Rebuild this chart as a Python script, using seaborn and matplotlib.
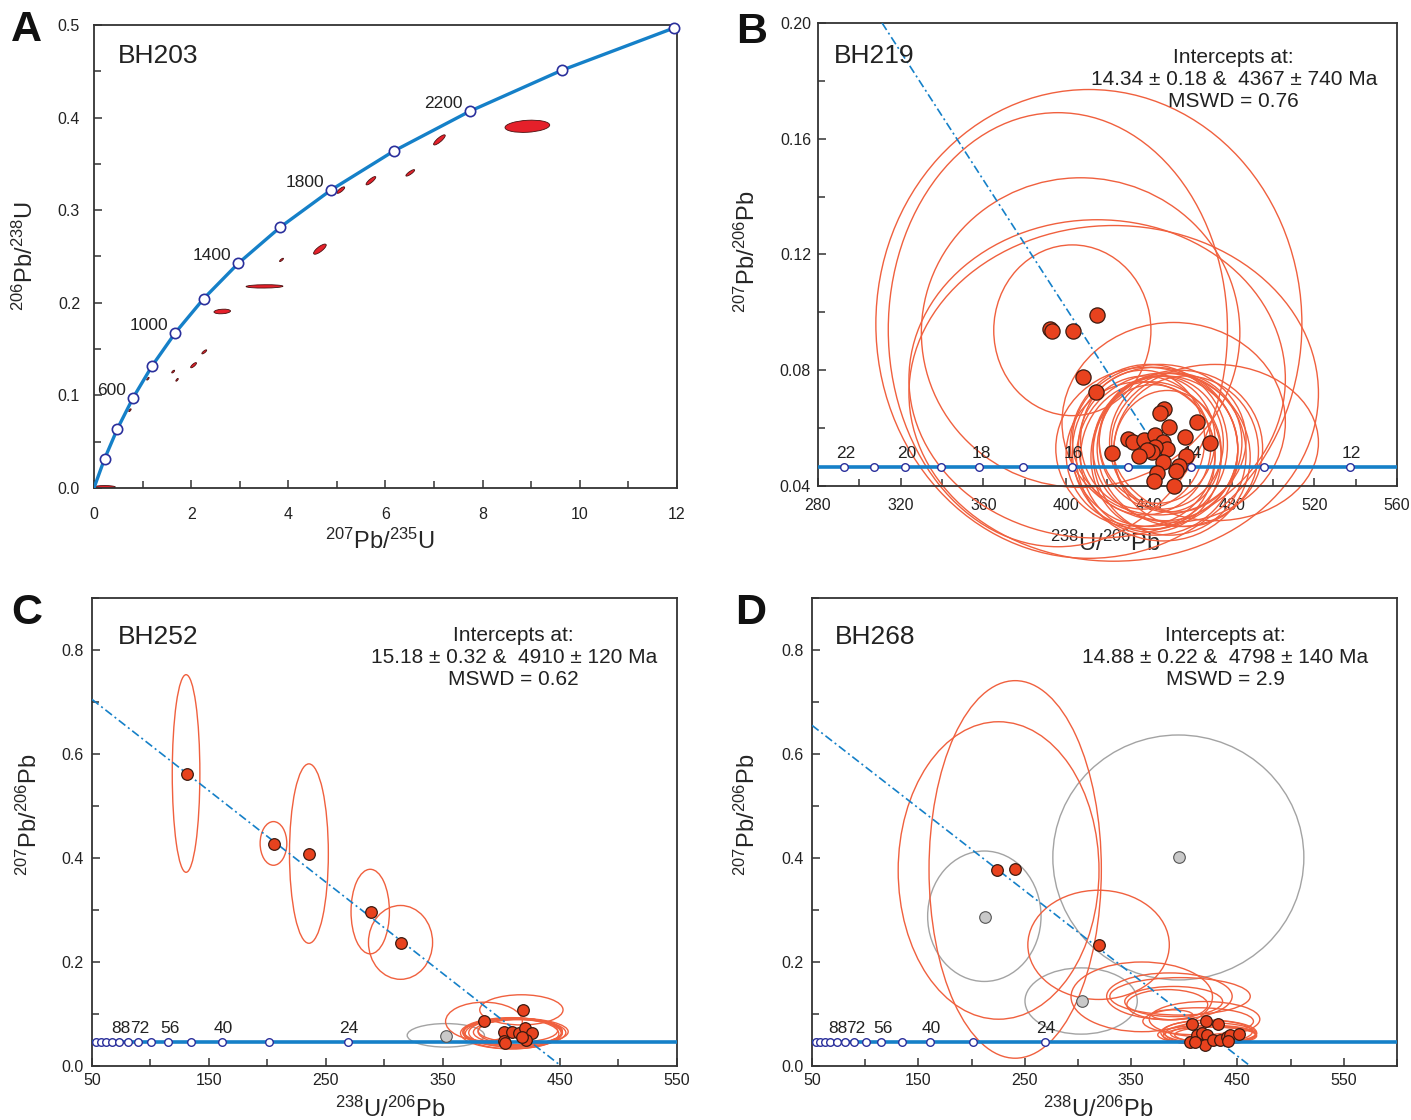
import numpy as np
import seaborn as sns
import matplotlib.pyplot as plt
from matplotlib.patches import Ellipse
from matplotlib.transforms import Affine2D
from matplotlib.ticker import MultipleLocator, FormatStrFormatter

sns.set_style("ticks")
plt.rcParams["font.family"] = ["Liberation Sans", "DejaVu Sans"]
plt.rcParams["mathtext.fontset"] = "custom"
plt.rcParams["mathtext.rm"] = "Liberation Sans"
plt.rcParams["mathtext.it"] = "Liberation Sans:italic"
plt.rcParams["mathtext.bf"] = "Liberation Sans:bold"

# ---------------- Panel A : BH203 (Wetherill concordia) ----------------
a_conc_age = [0, 200, 400, 600, 800, 1000, 1200, 1400, 1600, 1800, 2000, 2200, 2400, 2600]
a_conc_x = [0, 0.218, 0.483, 0.806, 1.199, 1.677, 2.260, 2.970, 3.835, 4.887, 6.169, 7.730, 9.630, 11.94]
a_conc_y = [0, 0.0315, 0.0640, 0.0975, 0.1321, 0.1678, 0.2046, 0.2426, 0.2817, 0.3221, 0.3638, 0.4067, 0.4511, 0.4968]
a_labels = [600, 1000, 1400, 1800, 2200]

a_ell_x = [8.92, 7.11, 6.51, 5.70, 5.08, 4.65, 3.86, 3.51, 2.64, 2.27, 2.05, 1.63, 1.71, 1.11, 0.74, 0.22, 0.31, 0.85]
a_ell_y = [0.3906, 0.3759, 0.3403, 0.3318, 0.3217, 0.2579, 0.2463, 0.2177, 0.1906, 0.147, 0.1326, 0.1257, 0.1168, 0.118, 0.084, 0.001, 0.029, 0.097]
a_ell_sx = [0.46, 0.12, 0.09, 0.10, 0.08, 0.13, 0.04, 0.38, 0.17, 0.05, 0.06, 0.03, 0.025, 0.025, 0.025, 0.22, 0.02, 0.02]
a_ell_sy = [0.0066, 0.0055, 0.0035, 0.0045, 0.0035, 0.0055, 0.0018, 0.0018, 0.0025, 0.0022, 0.0028, 0.0015, 0.0015, 0.0015, 0.0015, 0.0016, 0.0012, 0.0012]
a_ell_rho = [0.2, 0.85, 0.85, 0.85, 0.8, 0.8, 0.8, 0.1, 0.2, 0.8, 0.8, 0.7, 0.7, 0.7, 0.7, 0.0, 0.7, 0.7]

# ---------------- Panel B : BH219 (Tera-Wasserburg) ----------------
b_conc_y = 0.0466
b_mark_age = [22, 21, 20, 19, 18, 17, 16, 15, 14, 13, 12]
b_mark_x = [292.6, 307.3, 322.3, 339.3, 358.1, 379.2, 402.9, 429.8, 460.4, 495.9, 537.2]
b_labels = [22, 20, 18, 16, 14, 12]
b_disc_x = [311, 449.5]
b_disc_y = [0.20, 0.0466]

b_pt_x = [392.4, 393.3, 403.4, 414.7, 408.3, 414.4, 447.5, 445.4, 449.7, 463.4, 457.5, 469.6, 429.8, 432.2, 437.8,
          443.0, 447.0, 448.6, 443.1, 441.4, 439.0, 422.0, 435.2, 457.8, 446.7, 454.4, 453.0, 443.8, 442.6, 452.3]
b_pt_y = [0.0944, 0.0937, 0.0936, 0.0991, 0.0778, 0.0724, 0.0665, 0.0651, 0.0605, 0.0622, 0.0570, 0.0550, 0.0561, 0.0553, 0.0559,
          0.0575, 0.0553, 0.0527, 0.0534, 0.0519, 0.0524, 0.0513, 0.0505, 0.0505, 0.0484, 0.0469, 0.0452, 0.0444, 0.0417, 0.0400]

b_ell_x = [411, 396, 407, 415, 423, 403, 452, 472, 445, 440, 448, 443, 438, 450, 446, 441, 455, 436, 447, 444, 453, 439, 449, 442, 458, 437]
b_ell_y = [0.096, 0.094, 0.093, 0.077, 0.072, 0.0938, 0.062, 0.055, 0.056, 0.054, 0.053, 0.052, 0.054, 0.051, 0.055, 0.050,
           0.053, 0.051, 0.050, 0.056, 0.055, 0.053, 0.052, 0.050, 0.052, 0.056]
b_ell_sx = [103, 82, 77, 91, 99, 38, 54, 50, 42, 38, 35, 40, 32, 37, 30, 34, 40, 36, 42, 28, 32, 44, 26, 30, 35, 30]
b_ell_sy = [0.081, 0.075, 0.0535, 0.055, 0.058, 0.0295, 0.0345, 0.027, 0.026, 0.028, 0.025, 0.029, 0.024, 0.028, 0.023, 0.026,
            0.027, 0.025, 0.029, 0.022, 0.024, 0.028, 0.021, 0.025, 0.026, 0.024]

# ---------------- Panels C, D : shared concordia markers ----------------
cd_conc_y = 0.047
cd_mark_age = [120, 112, 104, 96, 88, 80, 72, 64, 56, 48, 40, 32, 24]
cd_mark_x = [53.7, 57.5, 62.0, 67.1, 73.2, 80.6, 89.5, 100.7, 115.1, 134.3, 161.2, 201.5, 268.6]
cd_labels = [88, 72, 56, 40, 24]

# Panel C : BH252
c_disc_x = [50, 451]
c_disc_y = [0.705, 0.0]
c_pt_x = [130.8, 205.9, 235.6, 288.2, 314.5, 385.3, 418.6, 402.1, 408.7, 415.0, 420.1, 426.3, 420.9, 402.1, 403.0, 417.3]
c_pt_y = [0.561, 0.427, 0.407, 0.2955, 0.2357, 0.0856, 0.1069, 0.0663, 0.0663, 0.0643, 0.0728, 0.0643, 0.0502, 0.0489, 0.0439, 0.0566]
c_gray_x = [352.6]
c_gray_y = [0.058]
c_ell_x = [130.4, 205.1, 235.4, 287.8, 313.7, 385.0, 417.0, 410, 412, 414, 408, 416, 411, 414, 409, 412]
c_ell_y = [0.5625, 0.428, 0.4085, 0.297, 0.2377, 0.0857, 0.108, 0.066, 0.064, 0.065, 0.063, 0.066, 0.064, 0.068, 0.062, 0.066]
c_ell_sx = [11.8, 11.4, 16.6, 16.4, 27.4, 32.8, 35.6, 42, 40, 38, 43, 36, 44, 34, 40, 45]
c_ell_sy = [0.19, 0.042, 0.1725, 0.0813, 0.071, 0.037, 0.029, 0.026, 0.028, 0.024, 0.030, 0.025, 0.027, 0.022, 0.029, 0.026]
c_gell_x = [352.4]
c_gell_y = [0.059]
c_gell_sx = [33]
c_gell_sy = [0.0226]

# Panel D : BH268
d_disc_x = [50, 462]
d_disc_y = [0.655, 0.0]
d_pt_x = [223.5, 241.0, 319.8, 406.9, 420.0, 431.3, 405.3, 411.6, 416.3, 421.6, 419.4, 427.2, 433.5, 439.8, 442.9, 451.7, 440.8, 410.0]
d_pt_y = [0.3768, 0.3788, 0.2328, 0.0806, 0.0856, 0.0806, 0.047, 0.0599, 0.0632, 0.0599, 0.0406, 0.0502, 0.0502, 0.0566, 0.0599, 0.0613, 0.0483, 0.047]
d_gray_x = [212.4, 395.3, 304.0]
d_gray_y = [0.2872, 0.4013, 0.1247]
d_ell_x = [225.4, 241.0, 319.4, 360, 386, 396, 390, 384, 419, 388.5, 413, 423, 425, 421, 427, 424, 429, 422]
d_ell_y = [0.376, 0.378, 0.233, 0.133, 0.134, 0.134, 0.124, 0.118, 0.090, 0.0985, 0.086, 0.064, 0.062, 0.060, 0.062, 0.058, 0.060, 0.066]
d_ell_sx = [94.4, 81, 66.5, 66.5, 59, 66, 46, 38, 52, 19.5, 52, 45, 43, 46, 40, 44, 38, 42]
d_ell_sy = [0.286, 0.363, 0.105, 0.067, 0.045, 0.036, 0.029, 0.029, 0.034, 0.0095, 0.026, 0.024, 0.021, 0.018, 0.016, 0.017, 0.015, 0.022]
d_gell_x = [212, 394.4, 303]
d_gell_y = [0.288, 0.401, 0.125]
d_gell_sx = [53.3, 118, 52.8]
d_gell_sy = [0.1254, 0.2355, 0.0637]

# ---------------- styles ----------------
BLUE = "#1580c8"
NAVY = "#2a2f9c"
ELL = "#f0603e"
PT_FILL = "#e8421e"
PT_EDGE = "#3a1a10"
GRAY_E = "#a3a3a3"
GRAY_F = "#c9c9c9"
DASH = (0, (5, 2, 1.2, 2))


def draw_ellipses(ax, xs, ys, sxs, sys_, rhos=None, clip=True, **kw):
    for i in range(len(xs)):
        r = 0.0 if rhos is None else rhos[i]
        m = np.array([[sxs[i], 0, xs[i]],
                      [sys_[i] * r, sys_[i] * np.sqrt(1 - r * r), ys[i]],
                      [0, 0, 1]])
        e = Ellipse((0, 0), 2, 2, transform=Affine2D(m) + ax.transData, clip_on=clip, **kw)
        ax.add_patch(e)


def style_axes(ax, xpad, ypad):
    for s in ax.spines.values():
        s.set_visible(True)
        s.set_color("#333333")
        s.set_linewidth(1.3)
    ax.tick_params(which="both", direction="in", top=False, right=False, colors="#333333",
                   labelcolor="#222222", labelsize=11.5)
    ax.tick_params(which="major", length=6, width=1.1)
    ax.tick_params(which="minor", length=5, width=1.1)
    ax.tick_params(axis="x", pad=xpad)
    ax.tick_params(axis="y", pad=ypad)


fig = plt.figure(figsize=(14.11, 11.2), dpi=100)

ax_a = fig.add_axes([0.0666, 0.5643, 0.4132, 0.4134])
ax_b = fig.add_axes([0.5797, 0.5661, 0.4104, 0.4134])
ax_c = fig.add_axes([0.0652, 0.0482, 0.4146, 0.4179])
ax_d = fig.add_axes([0.5755, 0.0482, 0.4146, 0.4179])

# ---- A ----
ax = ax_a
draw_ellipses(ax, a_ell_x, a_ell_y, a_ell_sx, a_ell_sy, a_ell_rho,
              facecolor="#e5202a", edgecolor="#4a1010", linewidth=0.6, zorder=2)
sns.lineplot(x=a_conc_x, y=a_conc_y, ax=ax, color=BLUE, linewidth=2.4, sort=False,
             estimator=None, zorder=3)
sns.scatterplot(x=a_conc_x[1:], y=a_conc_y[1:], ax=ax, s=55, color="white", edgecolor=NAVY,
                linewidth=1.2, zorder=4, legend=False, clip_on=False)
for age, x, y in zip(a_conc_age, a_conc_x, a_conc_y):
    if age in a_labels:
        ax.annotate(str(age), (x, y), xytext=(-5, 0), textcoords="offset points",
                    ha="right", va="bottom", fontsize=12.5, color="#222222")
ax.set_xlim(0, 12)
ax.set_ylim(0, 0.5)
ax.xaxis.set_major_locator(MultipleLocator(2))
ax.xaxis.set_minor_locator(MultipleLocator(1))
ax.yaxis.set_major_locator(MultipleLocator(0.1))
ax.yaxis.set_minor_locator(MultipleLocator(0.05))
ax.xaxis.set_major_formatter(FormatStrFormatter("%d"))
ax.yaxis.set_major_formatter(FormatStrFormatter("%.1f"))
style_axes(ax, 14, 10)
ax.set_xlabel(r"$^{207}\mathrm{Pb}/^{235}\mathrm{U}$", fontsize=17)
ax.set_ylabel(r"$^{206}\mathrm{Pb}/^{238}\mathrm{U}$", fontsize=17)
ax.xaxis.set_label_coords(0.49, -0.088)
ax.yaxis.set_label_coords(-0.097, 0.5)
ax.text(0.041, 0.933, "BH203", transform=ax.transAxes, fontsize=19, va="center", color="#222222")

# ---- B ----
ax = ax_b
draw_ellipses(ax, b_ell_x, b_ell_y, b_ell_sx, b_ell_sy, clip=False,
              facecolor="none", edgecolor=ELL, linewidth=1.0, zorder=2)
ax.axhline(b_conc_y, color=BLUE, linewidth=2.6, zorder=3)
sns.lineplot(x=b_disc_x, y=b_disc_y, ax=ax, color=BLUE, linewidth=1.2, linestyle=DASH, zorder=3)
sns.scatterplot(x=b_mark_x, y=[b_conc_y] * len(b_mark_x), ax=ax, s=30, color="white",
                edgecolor=NAVY, linewidth=1.0, zorder=4, legend=False)
sns.scatterplot(x=b_pt_x, y=b_pt_y, ax=ax, s=120, color=PT_FILL, edgecolor=PT_EDGE,
                linewidth=0.9, zorder=5, legend=False, clip_on=False)
for age, x in zip(b_mark_age, b_mark_x):
    if age in b_labels:
        ax.annotate(str(age), (x, b_conc_y), xytext=(1, 4), textcoords="offset points",
                    ha="center", va="bottom", fontsize=12.5, color="#222222")
ax.set_xlim(280, 560)
ax.set_ylim(0.04, 0.20)
ax.xaxis.set_major_locator(MultipleLocator(40))
ax.xaxis.set_minor_locator(MultipleLocator(20))
ax.yaxis.set_major_locator(MultipleLocator(0.04))
ax.yaxis.set_minor_locator(MultipleLocator(0.02))
ax.xaxis.set_major_formatter(FormatStrFormatter("%d"))
ax.yaxis.set_major_formatter(FormatStrFormatter("%.2f"))
style_axes(ax, 9, 5)
ax.set_xlabel(r"$^{238}\mathrm{U}/^{206}\mathrm{Pb}$", fontsize=17)
ax.set_ylabel(r"$^{207}\mathrm{Pb}/^{206}\mathrm{Pb}$", fontsize=17)
ax.xaxis.set_label_coords(0.496, -0.097)
ax.yaxis.set_label_coords(-0.1, 0.505)
ax.text(0.028, 0.929, "BH219", transform=ax.transAxes, fontsize=19, va="center", color="#222222")
ax.text(0.718, 0.945, "Intercepts at:\n14.34 ± 0.18 &  4367 ± 740 Ma\nMSWD = 0.76",
        transform=ax.transAxes, fontsize=15, ha="center", va="top", multialignment="center",
        linespacing=1.2, color="#222222")

# ---- C and D ----
panels = [
    (ax_c, "BH252", (50, 550), c_disc_x, c_disc_y, c_ell_x, c_ell_y, c_ell_sx, c_ell_sy,
     c_gell_x, c_gell_y, c_gell_sx, c_gell_sy, c_pt_x, c_pt_y, c_gray_x, c_gray_y,
     "Intercepts at:\n15.18 ± 0.32 &  4910 ± 120 Ma\nMSWD = 0.62", 0.721, 0.044, -0.085, 0.51),
    (ax_d, "BH268", (50, 600), d_disc_x, d_disc_y, d_ell_x, d_ell_y, d_ell_sx, d_ell_sy,
     d_gell_x, d_gell_y, d_gell_sx, d_gell_sy, d_pt_x, d_pt_y, d_gray_x, d_gray_y,
     "Intercepts at:\n14.88 ± 0.22 &  4798 ± 140 Ma\nMSWD = 2.9", 0.706, 0.039, -0.089, 0.49),
]
for (ax, name, xlim, dx, dy, ex, ey, esx, esy, gx, gy, gsx, gsy, px, py, gpx, gpy,
     itxt, ix, nx, ylx, xlx) in panels:
    draw_ellipses(ax, gx, gy, gsx, gsy, facecolor="none", edgecolor=GRAY_E, linewidth=1.0, zorder=2)
    draw_ellipses(ax, ex, ey, esx, esy, facecolor="none", edgecolor=ELL, linewidth=1.0, zorder=2)
    ax.axhline(cd_conc_y, color=BLUE, linewidth=2.6, zorder=3)
    sns.lineplot(x=dx, y=dy, ax=ax, color=BLUE, linewidth=1.2, linestyle=DASH, zorder=3)
    sns.scatterplot(x=cd_mark_x, y=[cd_conc_y] * len(cd_mark_x), ax=ax, s=30, color="white",
                    edgecolor=NAVY, linewidth=1.0, zorder=4, legend=False)
    sns.scatterplot(x=gpx, y=gpy, ax=ax, s=70, color=GRAY_F, edgecolor="#555555",
                    linewidth=0.8, zorder=5, legend=False)
    sns.scatterplot(x=px, y=py, ax=ax, s=70, color=PT_FILL, edgecolor=PT_EDGE,
                    linewidth=0.9, zorder=6, legend=False)
    for age, x in zip(cd_mark_age, cd_mark_x):
        if age in cd_labels:
            ax.annotate(str(age), (x, cd_conc_y), xytext=(1, 4), textcoords="offset points",
                        ha="center", va="bottom", fontsize=12.5, color="#222222")
    ax.set_xlim(*xlim)
    ax.set_ylim(0, 0.9)
    ax.xaxis.set_major_locator(MultipleLocator(100, offset=50))
    ax.xaxis.set_minor_locator(MultipleLocator(50))
    ax.yaxis.set_major_locator(MultipleLocator(0.2))
    ax.yaxis.set_minor_locator(MultipleLocator(0.1))
    ax.xaxis.set_major_formatter(FormatStrFormatter("%d"))
    ax.yaxis.set_major_formatter(FormatStrFormatter("%.1f"))
    style_axes(ax, 5, 6)
    ax.set_xlabel(r"$^{238}\mathrm{U}/^{206}\mathrm{Pb}$", fontsize=17)
    ax.set_ylabel(r"$^{207}\mathrm{Pb}/^{206}\mathrm{Pb}$", fontsize=17)
    ax.xaxis.set_label_coords(xlx, -0.065)
    ax.yaxis.set_label_coords(ylx, 0.536)
    ax.text(nx, 0.917, name, transform=ax.transAxes, fontsize=19, va="center", color="#222222")
    ax.text(ix, 0.94, itxt, transform=ax.transAxes, fontsize=15, ha="center", va="top",
            multialignment="center", linespacing=1.2, color="#222222")

for letter, x, y in [("A", 0.019, 0.973), ("B", 0.533, 0.971), ("C", 0.019, 0.453), ("D", 0.532, 0.453)]:
    fig.text(x, y, letter, fontsize=31, fontweight="bold", ha="center", va="center", color="#111111")

plt.savefig("out.png", dpi=100)
